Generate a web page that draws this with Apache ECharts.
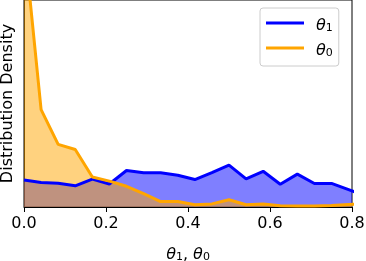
<!DOCTYPE html>
<html>
<head>
<meta charset="utf-8">
<script src="https://cdn.jsdelivr.net/npm/echarts@6/dist/echarts.min.js"></script>
<style>
html,body{margin:0;padding:0;background:#fff;}
#chart{width:366px;height:261px;}
</style>
</head>
<body>
<div id="chart"></div>
<script>
// bin positions (x)
var xValues = [0, 0.0417, 0.0833, 0.125, 0.1667, 0.2083, 0.25, 0.2917, 0.3333, 0.375, 0.4167,
               0.4583, 0.5, 0.5417, 0.5833, 0.625, 0.6667, 0.7083, 0.75, 0.7917, 0.8333];
// theta_1 density
var theta1 = [1.04, 0.95, 0.92, 0.82, 1.08, 0.89, 1.41, 1.32, 1.32, 1.23, 1.06,
              1.33, 1.62, 1.09, 1.38, 0.88, 1.27, 0.91, 0.91, 0.67, 0.43];
// theta_0 density
var theta0 = [10.34, 3.76, 2.42, 2.22, 1.16, 1.00, 0.80, 0.52, 0.21, 0.21, 0.09,
              0.12, 0.28, 0.085, 0.12, 0.05, 0.04, 0.04, 0.06, 0.10, 0.12];
var xTicks = [0, 0.2, 0.4, 0.6, 0.8];

function pairs(ys){ return ys.map(function(y,i){ return [xValues[i], y]; }); }

var FONT = 'DejaVu Sans';
var rich = {
  i: {fontFamily: FONT, fontStyle: 'italic', fontSize: 16, lineHeight: 22, verticalAlign: 'bottom', color: '#000'},
  s: {fontFamily: FONT, fontSize: 11, lineHeight: 11, verticalAlign: 'bottom', color: '#000'},
  n: {fontFamily: FONT, fontSize: 16, lineHeight: 22, verticalAlign: 'bottom', color: '#000'}
};
function lbl(name){
  return name === 'θ1' ? '{i|θ}{s|1}' : '{i|θ}{s|0}';
}

var chart = echarts.init(document.getElementById('chart'), null, {renderer: 'canvas'});
chart.setOption({
  animation: false,
  backgroundColor: '#fff',
  grid: {left: 24, right: 14, top: 0, bottom: 54, containLabel: false, outerBoundsMode: 'none',
         show: true, borderColor: '#000', borderWidth: 1, backgroundColor: 'transparent'},
  legend: {
    orient: 'vertical',
    left: 260, top: 8,
    padding: [10, 6, 7, 6],
    itemWidth: 38, itemHeight: 3,
    itemGap: 9,
    borderColor: '#cccccc', borderWidth: 1, borderRadius: 3,
    backgroundColor: 'rgba(255,255,255,0.8)',
    data: [
      {name: 'θ1', icon: 'rect', itemStyle: {color: '#0000ff'}},
      {name: 'θ0', icon: 'rect', itemStyle: {color: '#ffa500'}}
    ],
    formatter: lbl,
    textStyle: {rich: rich, padding: [0,0,0,7]}
  },
  xAxis: {
    type: 'value', min: 0, max: 0.8, interval: 0.2,
    axisLine: {show: true, lineStyle: {color: '#000', width: 1}},
    axisTick: {show: true, length: 5, lineStyle: {color: '#000'}},
    axisLabel: {margin: 9, fontFamily: FONT, fontSize: 16, color: '#000',
      formatter: function(v){ return v.toFixed(1); },
      customValues: xTicks},
    splitLine: {show: false},
    name: '{i|θ}{s|1}{n|, }{i|θ}{s|0}',
    nameLocation: 'middle', nameGap: 34,
    nameTextStyle: {rich: rich}
  },
  yAxis: {
    type: 'value', min: 0, max: 8,
    axisLine: {show: true, lineStyle: {color: '#000'}},
    axisTick: {show: false},
    axisLabel: {show: false},
    splitLine: {show: false},
    name: 'Distribution Density',
    nameLocation: 'middle', nameGap: 8,
    nameTextStyle: {fontFamily: FONT, fontSize: 16, color: '#000'}
  },
  series: [
    {name: 'θ1', type: 'line', data: pairs(theta1), symbol: 'none', z: 4,
     lineStyle: {color: '#0000ff', width: 3}, itemStyle: {color: '#0000ff'}},
    {name: 'θ0', type: 'line', data: pairs(theta0), symbol: 'none', z: 5,
     lineStyle: {color: '#ffa500', width: 3}, itemStyle: {color: '#ffa500'}},
    {name: 'θ1', type: 'line', data: pairs(theta1), symbol: 'none', z: 2,
     lineStyle: {width: 0}, itemStyle: {color: '#0000ff'},
     areaStyle: {color: '#0000ff', opacity: 0.5}},
    {name: 'θ0', type: 'line', data: pairs(theta0), symbol: 'none', z: 3,
     lineStyle: {width: 0}, itemStyle: {color: '#ffa500'},
     areaStyle: {color: '#ffa500', opacity: 0.5}}
  ]
});
</script>
</body>
</html>
